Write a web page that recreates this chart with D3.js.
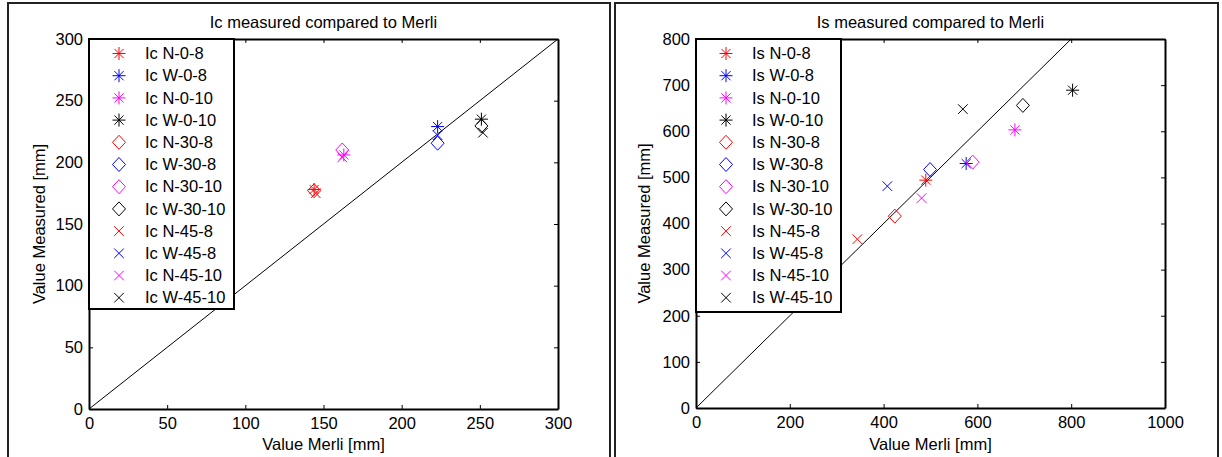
<!DOCTYPE html>
<html>
<head>
<meta charset="utf-8">
<script src="https://cdn.jsdelivr.net/npm/d3@7"></script>
<style>
  body { margin: 0; background: #fff; }
  svg { display: block; font-family: "Liberation Sans", Arial, sans-serif; }
</style>
</head>
<body>
<svg id="chart" width="1222" height="457"></svg>
<script>

// series names, shared by both panels
var seriesNames = ["N-0-8", "W-0-8", "N-0-10", "W-0-10",
                   "N-30-8", "W-30-8", "N-30-10", "W-30-10",
                   "N-45-8", "W-45-8", "N-45-10", "W-45-10"];

// Ic panel
var icMerli    = [144, 223, 163, 251, 144, 223, 162, 251, 145, 223, 162, 252];
var icMeasured = [178, 229, 206, 235, 177, 215.5, 210, 229.5, 175, 222, 204, 224];
var icXTicks = [0, 50, 100, 150, 200, 250, 300];
var icYTicks = [0, 50, 100, 150, 200, 250, 300];

// Is panel
var isMerli    = [490, 576, 680, 803, 424, 499, 590, 697, 344, 408, 481, 569];
var isMeasured = [494, 530, 603, 689, 416, 517, 533, 656, 366, 481, 455, 648];
var isXTicks = [0, 200, 400, 600, 800, 1000];
var isYTicks = [0, 100, 200, 300, 400, 500, 600, 700, 800];

// styles
var colors  = ["red", "blue", "magenta", "black"];
var markers = ["star", "diamond", "cross"];

var svg = d3.select("#chart");

function markerPath(type){
  if (type == "star"){
    var r = 6.5, d = 4.6;
    return "M" + (-r) + ",0H" + r + "M0," + (-r) + "V" + r +
           "M" + (-d) + "," + (-d) + "L" + d + "," + d +
           "M" + (-d) + "," + d + "L" + d + "," + (-d);
  }
  if (type == "diamond"){
    return "M0,-7L6.5,0L0,7L-6.5,0Z";
  }
  var c = 4.8;
  return "M" + (-c) + "," + (-c) + "L" + c + "," + c +
         "M" + (-c) + "," + c + "L" + c + "," + (-c);
}

function drawPanel(opt){
  svg.append("rect")
    .attr("x", opt.frame[0]).attr("y", opt.frame[1])
    .attr("width", opt.frame[2]).attr("height", opt.frame[3])
    .attr("fill", "none").attr("stroke", "#222").attr("stroke-width", 2);

  var x = d3.scaleLinear().domain([0, opt.xMax]).range([opt.left, opt.right]);
  var y = d3.scaleLinear().domain([0, opt.yMax]).range([opt.bottom, opt.top]);
  var fmt = d3.format("d");

  var g = svg.append("g");

  // diagonal y = x
  var lim = Math.min(opt.xMax, opt.yMax);
  g.append("line")
    .attr("x1", x(0)).attr("y1", y(0))
    .attr("x2", x(lim)).attr("y2", y(lim))
    .attr("stroke", "black").attr("stroke-width", 1);

  // points
  for (var i = 0 ; i < opt.merli.length ; i++){
    g.append("path")
      .attr("transform", "translate(" + x(opt.merli[i]) + "," + y(opt.measured[i]) + ")")
      .attr("d", markerPath(markers[Math.floor(i / 4)]))
      .attr("fill", "none")
      .attr("stroke", colors[i % 4])
      .attr("stroke-width", 1);
  }

  // axes, ticks pointing inward on all four sides
  g.append("g")
    .attr("transform", "translate(0," + opt.bottom + ")")
    .call(d3.axisBottom(x).tickValues(opt.xTicks).tickFormat(fmt).tickSize(-4).tickSizeOuter(0).tickPadding(8));
  g.append("g")
    .attr("transform", "translate(" + opt.left + ",0)")
    .call(d3.axisLeft(y).tickValues(opt.yTicks).tickFormat(fmt).tickSize(-4).tickSizeOuter(0).tickPadding(6));
  g.append("g")
    .attr("transform", "translate(0," + opt.top + ")")
    .call(d3.axisTop(x).tickValues(opt.xTicks).tickSize(-4).tickSizeOuter(0).tickFormat(""));
  g.append("g")
    .attr("transform", "translate(" + opt.right + ",0)")
    .call(d3.axisRight(y).tickValues(opt.yTicks).tickSize(-4).tickSizeOuter(0).tickFormat(""));

  g.selectAll(".domain").attr("stroke", "black").attr("stroke-width", 2);
  g.selectAll(".tick line").attr("stroke", "black");
  g.selectAll(".tick text").attr("font-size", 16.5).attr("fill", "black")
    .attr("font-family", "Liberation Sans, Arial, sans-serif");

  // title and axis labels
  svg.append("text")
    .attr("x", (opt.left + opt.right) / 2).attr("y", 28)
    .attr("text-anchor", "middle").attr("font-size", 16.5)
    .text(opt.title);
  svg.append("text")
    .attr("x", (opt.left + opt.right) / 2).attr("y", 450)
    .attr("text-anchor", "middle").attr("font-size", 16.5)
    .text("Value Merli [mm]");
  svg.append("text")
    .attr("transform", "translate(" + opt.yLabelX + "," + (opt.top + opt.bottom) / 2 + ") rotate(-90)")
    .attr("text-anchor", "middle").attr("font-size", 16.5)
    .text("Value Measured [mm]");

  // legend
  var lg = svg.append("g").attr("transform", "translate(" + opt.left + "," + opt.top + ")");
  lg.append("rect")
    .attr("width", opt.legendW).attr("height", opt.legendH)
    .attr("fill", "white").attr("stroke", "black").attr("stroke-width", 2);
  for (var j = 0 ; j < seriesNames.length ; j++){
    var row = lg.append("g").attr("transform", "translate(0," + (14.5 + j * 22.2) + ")");
    row.append("path")
      .attr("transform", "translate(30,0)")
      .attr("d", markerPath(markers[Math.floor(j / 4)]))
      .attr("fill", "none")
      .attr("stroke", colors[j % 4]);
    row.append("text")
      .attr("x", 56).attr("dy", "0.35em")
      .attr("font-size", 16.5)
      .text(opt.prefix + " " + seriesNames[j]);
  }
}

drawPanel({
  frame: [8, 3, 602, 470],
  left: 89, right: 558, top: 39, bottom: 409,
  xMax: 300, yMax: 300, xTicks: icXTicks, yTicks: icYTicks,
  merli: icMerli, measured: icMeasured,
  title: "Ic measured compared to Merli", prefix: "Ic",
  yLabelX: 45, legendW: 145, legendH: 270
});

drawPanel({
  frame: [615, 3, 603, 470],
  left: 696, right: 1165, top: 39, bottom: 408,
  xMax: 1000, yMax: 800, xTicks: isXTicks, yTicks: isYTicks,
  merli: isMerli, measured: isMeasured,
  title: "Is measured compared to Merli", prefix: "Is",
  yLabelX: 650, legendW: 145, legendH: 273
});

</script>
</body>
</html>
